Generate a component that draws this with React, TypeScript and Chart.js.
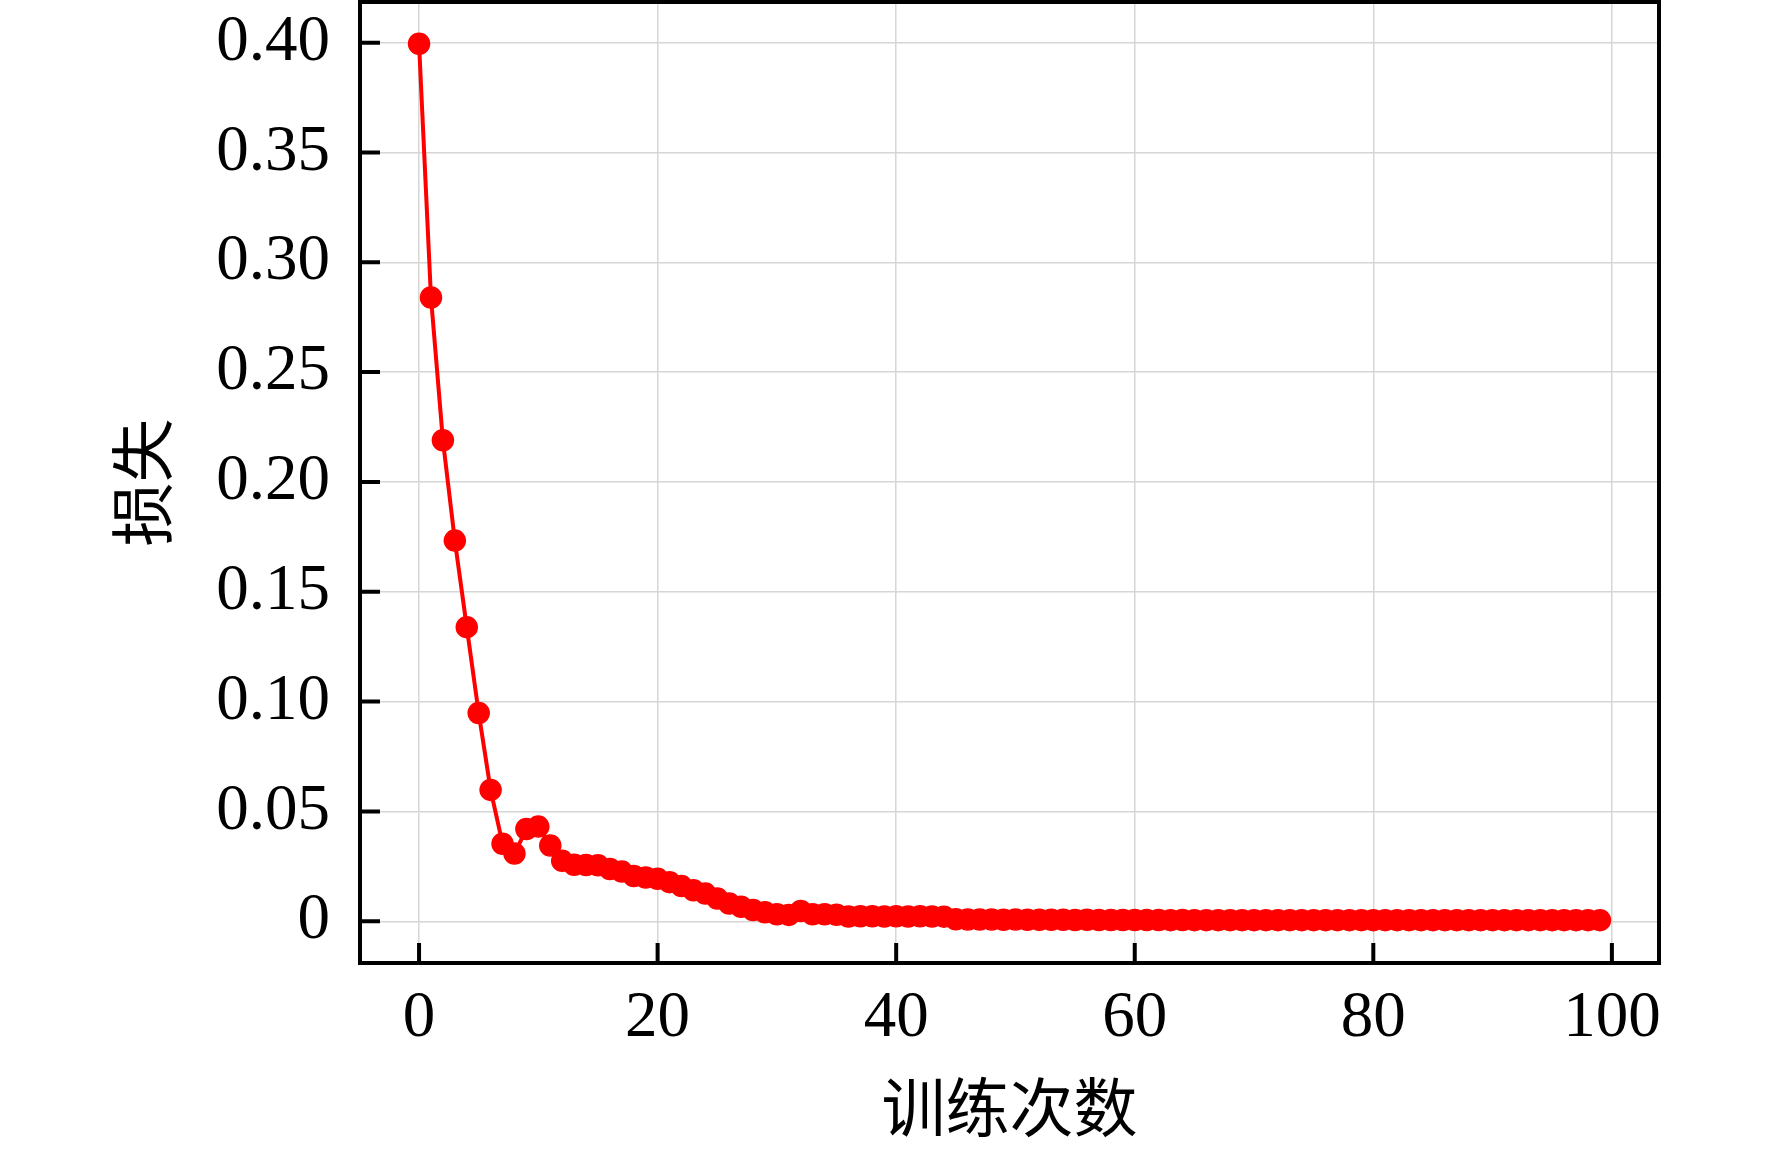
import React, { useEffect, useRef } from "react";
import { Chart, registerables } from "chart.js";

Chart.register(...registerables);

const lossValues = [
  0.3995, 0.284, 0.219, 0.1733, 0.1339, 0.0948, 0.0598, 0.0353, 0.0308, 0.042,
  0.0431, 0.0345, 0.0275, 0.0257, 0.0256, 0.0255, 0.0238, 0.0226, 0.0206, 0.0199,
  0.0193, 0.0178, 0.016, 0.0141, 0.0126, 0.0104, 0.0081, 0.0066, 0.0051, 0.0041,
  0.0032, 0.0029, 0.0047, 0.0032, 0.0032, 0.003, 0.0022, 0.0023, 0.0023, 0.0022,
  0.0023, 0.0022, 0.0023, 0.0022, 0.0021, 0.0009, 0.0008, 0.0008, 0.0008, 0.0007,
  0.0008, 0.0007, 0.0007, 0.0007, 0.0007, 0.0006, 0.0007, 0.0006, 0.0006, 0.0006,
  0.0006, 0.0006, 0.0006, 0.0005, 0.0006, 0.0005, 0.0005, 0.0005, 0.0005, 0.0005,
  0.0005, 0.0005, 0.0005, 0.0005, 0.0005, 0.0005, 0.0005, 0.0005, 0.0005, 0.0005,
  0.0005, 0.0005, 0.0005, 0.0005, 0.0005, 0.0005, 0.0005, 0.0005, 0.0005, 0.0005,
  0.0005, 0.0005, 0.0005, 0.0005, 0.0005, 0.0005, 0.0005, 0.0005, 0.0005, 0.0005,
];
const epochs = lossValues.map((_, i) => i);

const xTickValues = [0, 20, 40, 60, 80, 100];
const xTickLabels = ["0", "20", "40", "60", "80", "100"];
const yTickValues = [0, 0.05, 0.1, 0.15, 0.2, 0.25, 0.3, 0.35, 0.4];
const yTickLabels = ["0", "0.05", "0.10", "0.15", "0.20", "0.25", "0.30", "0.35", "0.40"];

const xTitle = "训练次数";
const yTitle = "损失";

const W = 1772;
const H = 1150;

const serif = "'Liberation Serif', 'Times New Roman', serif";
const xTickFont = { family: serif, size: 65 };
const yTickFont = { family: serif, size: 65, lineHeight: 1.0 };
const titleFont = { family: "'Noto Sans CJK SC', sans-serif", size: 64 };

const frameAndTicks = {
  id: "frameAndTicks",
  afterDraw(chart: any) {
    const { ctx, chartArea } = chart;
    const { left, right, top, bottom } = chartArea;
    ctx.save();
    ctx.strokeStyle = "#000";
    ctx.lineWidth = 4;
    ctx.beginPath();
    chart.scales.x.ticks.forEach((t: any) => {
      const px = chart.scales.x.getPixelForValue(t.value);
      ctx.moveTo(px, bottom);
      ctx.lineTo(px, bottom - 20);
    });
    chart.scales.y.ticks.forEach((t: any) => {
      const py = chart.scales.y.getPixelForValue(t.value);
      ctx.moveTo(left, py);
      ctx.lineTo(left + 20, py);
    });
    ctx.stroke();
    ctx.strokeRect(left, top, right - left, bottom - top);
    ctx.restore();
  },
};

export default function App() {
  const canvasRef = useRef<HTMLCanvasElement | null>(null);

  useEffect(() => {
    if (!canvasRef.current) return;
    const chart = new Chart(canvasRef.current, {
      type: "line",
      data: {
        datasets: [
          {
            data: lossValues.map((v, i) => ({ x: epochs[i], y: v })),
            borderColor: "#ff0000",
            backgroundColor: "#ff0000",
            borderWidth: 4,
            pointRadius: 10.5,
            pointBorderWidth: 1.5,
            pointBorderColor: "#ff0000",
            pointBackgroundColor: "#ff0000",
            tension: 0,
          },
        ],
      },
      options: {
        animation: false,
        responsive: false,
        devicePixelRatio: 1,
        layout: { autoPadding: false, padding: { top: 2, right: 113, left: 0, bottom: 0 } },
        plugins: { legend: { display: false }, tooltip: { enabled: false } },
        scales: {
          x: {
            type: "linear",
            min: -4.95,
            max: 103.95,
            afterBuildTicks: (scale: any) => {
              scale.ticks = xTickValues.map((v) => ({ value: v }));
            },
            afterFit: (scale: any) => {
              scale.height = 187;
              scale.paddingLeft = 0;
              scale.paddingRight = 0;
            },
            ticks: {
              font: xTickFont,
              color: "#000",
              padding: 17,
              maxRotation: 0,
              autoSkip: false,
              callback: (v: any) => {
                const i = xTickValues.indexOf(Number(v));
                return i >= 0 ? xTickLabels[i] : "";
              },
            },
            grid: { color: "#d6d6d6", lineWidth: 1.5, drawTicks: false },
            border: { display: false },
            title: {
              display: true,
              text: xTitle,
              font: titleFont,
              color: "#000",
              padding: { top: 0, bottom: 5 },
            },
          },
          y: {
            type: "linear",
            min: -0.019,
            max: 0.4185,
            afterBuildTicks: (scale: any) => {
              scale.ticks = yTickValues.map((v) => ({ value: v }));
            },
            afterFit: (scale: any) => {
              scale.width = 360;
              scale.paddingTop = 0;
              scale.paddingBottom = 0;
            },
            ticks: {
              font: yTickFont,
              color: "#000",
              padding: 30,
              autoSkip: false,
              callback: (v: any) => {
                const i = yTickValues.findIndex((t) => Math.abs(t - Number(v)) < 1e-9);
                return i >= 0 ? yTickLabels[i] : "";
              },
            },
            grid: { color: "#d6d6d6", lineWidth: 1.5, drawTicks: false },
            border: { display: false },
            title: {
              display: true,
              text: yTitle,
              font: titleFont,
              color: "#000",
              padding: { top: 103, bottom: 0 },
            },
          },
        },
      },
      plugins: [frameAndTicks],
    } as any);
    return () => chart.destroy();
  }, []);

  return (
    <div style={{ position: "fixed", left: 0, top: 0, width: W, height: H, background: "#fff" }}>
      <canvas ref={canvasRef} width={W} height={H} style={{ width: W, height: H }} />
    </div>
  );
}
